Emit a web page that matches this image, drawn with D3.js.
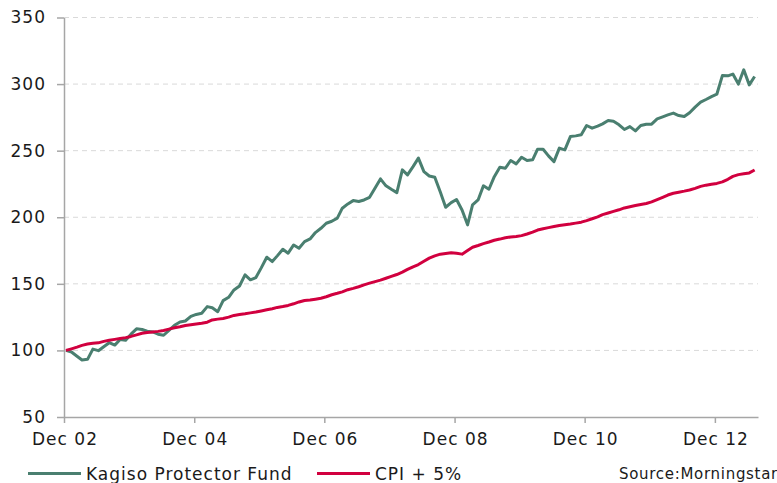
<!DOCTYPE html>
<html>
<head>
<meta charset="utf-8">
<script src="https://cdn.jsdelivr.net/npm/d3@7"></script>
<style>
  body { margin: 0; background: #fff; }
  text { font-family: "DejaVu Sans", Verdana, sans-serif; fill: #1a1a1a; letter-spacing: 1px; }
  .grid line { stroke: #d9d9d9; stroke-dasharray: 5,4; }
  .axis path, .axis line { stroke: #a6a6a6; stroke-width: 1.5; }
</style>
</head>
<body>
<div id="container"></div>
<script>
// Monthly index values, Dec 2002 = 100
let fund_values = [
  100, 98.8, 95.6, 92.8, 93.3, 101, 99.8, 102.8, 105.8, 104, 108.2, 107.7,
  112.2, 116.2, 115.7, 114.4, 113.9, 112.2, 111.4, 115.1, 118.9, 121.4, 122.1, 125.5,
  127, 127.9, 132.9, 132.1, 129.1, 137.4, 139.9, 145.4, 148.4, 156.7, 153, 154.7,
  162, 170, 166.7, 171, 176, 173, 179.2, 176.7, 181.7, 183.7, 188.5, 191.7,
  195.5, 197, 199.3, 206.8, 210, 212.5, 211.8, 213, 215, 222, 228.8, 223.6,
  221, 218.5, 235.6, 231.8, 238, 244.4, 234.3, 231, 230.1, 219, 207.5, 211,
  213.3, 205.5, 194.3, 209.3, 213, 223.6, 221, 230.5, 237.6, 236.8, 242.6, 240.1,
  245.1, 242.6, 243.1, 251.1, 251.1, 246.1, 241.8, 251.9, 250.6, 260.6, 261.1, 261.9,
  268.9, 266.9, 268.4, 270.1, 272.6, 272.1, 269.4, 265.9, 268.1, 264.9, 268.9, 269.9,
  269.9, 273.9, 275.4, 276.9, 278.2, 276.4, 275.6, 278.5, 282.7, 286.4, 288.4, 290.6,
  292.4, 306.4, 306.2, 307.5, 300, 310.7, 299.4, 305.7
];
let cpi_values = [
  100, 101.2, 102.5, 103.8, 104.8, 105.3, 105.7, 106.8, 107.6, 108.3, 109, 109.6,
  110.5, 111.7, 112.9, 113.5, 113.9, 114.3, 115, 116, 117, 117.8, 118.7, 119.3,
  119.9, 120.4, 121.2, 122.9, 123.5, 124, 125, 126.3, 126.9, 127.5, 128.2, 128.8,
  129.6, 130.5, 131.3, 132.3, 133, 133.8, 135, 136.4, 137.5, 137.9, 138.5, 139.2,
  140.3, 141.8, 142.9, 144, 145.6, 146.6, 147.8, 149.2, 150.5, 151.7, 152.8, 154.2,
  155.6, 157, 158.8, 160.8, 162.8, 164.5, 167, 169.3, 171, 172.3, 172.8, 173.4,
  173, 172.3, 175, 177.5, 178.8, 180.2, 181.4, 182.7, 183.6, 184.6, 185.2, 185.5,
  186.2, 187.4, 188.8, 190.4, 191.4, 192.2, 193, 193.8, 194.4, 194.9, 195.6, 196.3,
  197.5, 198.9, 200.3, 202, 203.2, 204.4, 205.6, 207, 207.9, 208.8, 209.6, 210.3,
  211.5, 213.2, 215, 216.7, 218, 218.8, 219.6, 220.5, 221.7, 223.2, 224.1, 224.8,
  225.4, 226.6, 228.5, 230.7, 232, 232.6, 233.3, 235.5
];
let series_names = ["Kagiso Protector Fund", "CPI + 5%"];
let y_ticks = [50, 100, 150, 200, 250, 300, 350];
let x_tick_years = [2002, 2004, 2006, 2008, 2010, 2012];

// Width and height
let chart_width = 777;
let chart_height = 483;
let margin = {left: 64, right: 19, top: 17.5, bottom: 66};

// one date per month, plotted a little after the month start
let dates = fund_values.map((d, i) => new Date(2002, 11 + i, 12));

let xScale = d3.scaleTime()
  .domain([new Date(2002, 11, 1), new Date(2013, 6, 31)])
  .range([margin.left, chart_width - margin.right]);
let yScale = d3.scaleLinear()
  .domain([50, 350])
  .range([chart_height - margin.bottom, margin.top]);

let svg = d3.select("#container")
  .append("svg")
  .attr("width", chart_width)
  .attr("height", chart_height);

// Dashed gridlines
svg.append("g")
  .attr("class", "grid")
  .selectAll("line")
  .data(y_ticks.slice(1))
  .enter()
  .append("line")
  .attr("x1", margin.left)
  .attr("x2", chart_width - margin.right)
  .attr("y1", (d) => yScale(d))
  .attr("y2", (d) => yScale(d));

// Axes
let yAxis = d3.axisLeft(yScale)
  .tickValues(y_ticks)
  .tickSize(7)
  .tickPadding(11)
  .tickSizeOuter(0);
svg.append("g")
  .attr("class", "axis")
  .attr("transform", "translate(" + margin.left + ",0)")
  .call(yAxis)
  .selectAll("text")
  .style("font-size", "17px");

let xAxis = d3.axisBottom(xScale)
  .tickValues(x_tick_years.map((y) => new Date(y, 11, 1)))
  .tickFormat(d3.timeFormat("Dec %y"))
  .tickSize(6)
  .tickPadding(10)
  .tickSizeOuter(0);
svg.append("g")
  .attr("class", "axis")
  .attr("transform", "translate(0," + (chart_height - margin.bottom) + ")")
  .call(xAxis)
  .selectAll("text")
  .attr("dx", "0.5")
  .style("font-size", "17px");

svg.selectAll(".axis .domain").attr("stroke", "#a6a6a6");

// Lines
let line = d3.line()
  .x((d, i) => xScale(dates[i]))
  .y((d) => yScale(d));

svg.append("path")
  .datum(fund_values)
  .attr("fill", "none")
  .attr("stroke", "#4a7f70")
  .attr("stroke-width", 3)
  .attr("stroke-linejoin", "round")
  .attr("d", line);

svg.append("path")
  .datum(cpi_values)
  .attr("fill", "none")
  .attr("stroke", "#d1003f")
  .attr("stroke-width", 3)
  .attr("stroke-linejoin", "round")
  .attr("d", line);

// Legend
let legend = [
  {name: series_names[0], color: "#4a7f70", x: 28},
  {name: series_names[1], color: "#d1003f", x: 317}
];
let legend_g = svg.append("g").selectAll("g")
  .data(legend)
  .enter()
  .append("g");
legend_g.append("line")
  .attr("x1", (d) => d.x)
  .attr("x2", (d) => d.x + 53)
  .attr("y1", 473.5)
  .attr("y2", 473.5)
  .attr("stroke", (d) => d.color)
  .attr("stroke-width", 3);
legend_g.append("text")
  .attr("x", (d) => d.x + 58)
  .attr("y", 480)
  .style("font-size", "17px")
  .text((d) => d.name);

// Source note
svg.append("text")
  .attr("x", 619)
  .attr("y", 478.5)
  .style("font-size", "15px")
  .style("letter-spacing", "0.7px")
  .text("Source:Morningstar");
</script>
</body>
</html>
